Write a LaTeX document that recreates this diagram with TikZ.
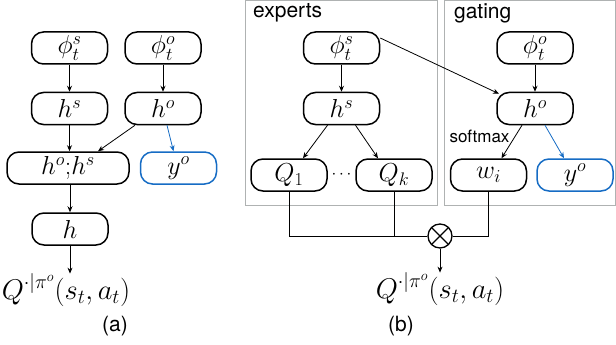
\RequirePackage{fix-cm}
\documentclass[tikz,border=0pt]{standalone}
\usepackage{fontspec}
\newfontfamily\labelfont{TeX Gyre Heros}
\usetikzlibrary{arrows.meta,shapes.misc}
\definecolor{myblue}{RGB}{22,108,196}
\definecolor{framegray}{RGB}{175,178,178}
\begin{document}
\begin{tikzpicture}[x=1pt,y=-1pt,
  box/.style={draw,line width=1.5pt,rounded corners=12pt,minimum width=76pt,minimum height=32pt,inner sep=0pt,font=\fontsize{26}{28}\selectfont},
  bluebox/.style={box,draw=myblue},
  wide/.style={box,minimum width=122pt},
  arr/.style={-{Stealth[length=6pt,width=5pt]},line width=0.8pt},
  barr/.style={arr,draw=myblue},
  frame/.style={draw=framegray,line width=1pt},
  lab/.style={font=\labelfont\fontsize{21}{24}\selectfont,inner sep=0pt},
  mathlab/.style={font=\fontsize{28.5}{30}\selectfont,inner sep=0pt}]
\useasboundingbox (0,0) rectangle (616,345);
% ---------- (a)
\node[box] (phisa) at (69.5,48) {$\phi_t^s$};
\node[box] (phioa) at (163,48) {$\phi_t^o$};
\node[box] (hsa) at (69.5,108.5) {$h^s$};
\node[box] (hoa) at (163,108.5) {$h^o$};
\node[wide] (hohs) at (68,168) {$h^o{;}h^s$};
\node[bluebox] (yoa) at (178.5,168) {$y^o$};
\node[box] (ha) at (70,229) {$h$};
\node[mathlab] (Qa) at (66,290) {$Q^{\cdot|\pi^o}(s_t,a_t)$};
\node[lab] (capa) at (115,326) {(a)};
\draw[arr] (phisa) -- (hsa);
\draw[arr] (phioa) -- (hoa);
\draw[arr] (hsa.south) -- (hsa.south |- hohs.north);
\draw[arr] ([xshift=-28pt]hoa.south) -- ([xshift=30pt]hohs.north);
\draw[barr] ([xshift=4pt]hoa.south) -- ([xshift=-5pt]yoa.north);
\draw[arr] (ha.south |- hohs.south) -- (ha.north);
\draw[arr] (ha.south) -- (Qa.north -| ha.south);
% ---------- (b)
\draw[frame] (245,1) rectangle (437,205);
\draw[frame] (444,1) rectangle (615.5,205);
\node[lab,anchor=west] (experts) at (253,13) {experts};
\node[lab,anchor=west] (gating) at (454,13) {gating};
\node[box] (phisb) at (341.5,48) {$\phi_t^s$};
\node[box] (phiob) at (535,48) {$\phi_t^o$};
\node[box] (hsb) at (341.5,108.5) {$h^s$};
\node[box] (hob) at (535,108.5) {$h^o$};
\node[box] (Q1) at (289,175) {$Q_1$};
\node[box] (Qk) at (394,175) {$Q_k$};
\node[box] (wi) at (488.5,175) {$w_i$};
\node[bluebox] (yob) at (575,175) {$y^o$};
\node[font=\fontsize{17}{20}\selectfont,inner sep=0pt] (dots) at (341.5,175) {$\cdots$};
\node[lab,font=\labelfont\fontsize{17}{20}\selectfont] (softmax) at (479.5,136) {softmax};
\node[draw,circle,line width=1.3pt,minimum size=24pt,inner sep=0pt,path picture={
  \draw[line width=1.3pt] (path picture bounding box.north west) -- (path picture bounding box.south east)
  (path picture bounding box.north east) -- (path picture bounding box.south west);}] (otimes) at (440,236) {};
\node[mathlab] (Qb) at (440,289) {$Q^{\cdot|\pi^o}(s_t,a_t)$};
\node[lab] (capb) at (401,326) {(b)};
\draw[arr] (phisb) -- (hsb);
\draw[arr] (phiob) -- (hob);
\draw[arr] (phisb.east) ++(0,10pt) coordinate (ps) (ps) -- ([xshift=-36pt,yshift=-2pt]hob.north);
\draw[arr] ([xshift=-14pt]hsb.south) -- ([xshift=14pt]Q1.north);
\draw[arr] ([xshift=14pt]hsb.south) -- ([xshift=-16pt]Qk.north);
\draw[arr] ([xshift=-13pt]hob.south) -- ([xshift=13pt]wi.north);
\draw[barr] ([xshift=10pt]hob.south) -- ([xshift=-11pt]yob.north);
\draw[line width=0.8pt] (Q1.south) |- (otimes.west);
\draw[line width=0.8pt] (Qk.south) |- (otimes.west);
\draw[line width=0.8pt] (wi.south) |- (otimes.east);
\draw[arr] (otimes.south) -- (Qb.north -| otimes.south);
\end{tikzpicture}
\end{document}
